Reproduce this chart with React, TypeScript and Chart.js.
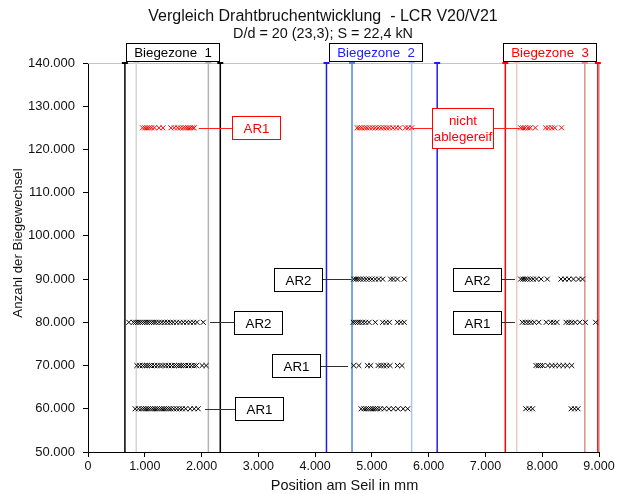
import React, { useEffect, useRef } from 'react';
import { Chart, registerables } from 'chart.js';

Chart.register(...registerables);

const FONT = '"Liberation Sans", Arial, sans-serif';

const TITLE = 'Vergleich Drahtbruchentwicklung  - LCR V20/V21';
const SUBTITLE = 'D/d = 20 (23,3); S = 22,4 kN';
const X_TITLE = 'Position am Seil in mm';
const Y_TITLE = 'Anzahl der Biegewechsel';

const X_MIN = 0;
const X_MAX = 9000;
const X_STEP = 1000;
const Y_MIN = 50000;
const Y_MAX = 140000;
const Y_STEP = 10000;

// Wire-break rows (y = number of bending cycles)
const RED_ROW_Y = 125000;
const RED_125000_X = [
  960, 1000, 1040, 1080, 1120, 1170, 1250, 1320, 1460, 1520, 1580, 1630, 1680, 1720, 1760, 1800, 1840, 1870,
  4740, 4780, 4820, 4870, 4910, 4960, 5010, 5060, 5110, 5160, 5210, 5260, 5310, 5370, 5430, 5490, 5590, 5640, 5700,
  7620, 7660, 7700, 7750, 7790, 7880, 8060, 8110, 8170, 8220, 8340,
];
const BLACK_90000_X = [
  4680, 4720, 4760, 4800, 4850, 4900, 4950, 5000, 5060, 5120, 5190, 5330, 5380, 5450, 5570,
  7620, 7660, 7700, 7740, 7790, 7840, 7900, 7980, 8090, 8330, 8400, 8470, 8550, 8640, 8710,
];
const BLACK_80000_X = [
  720, 800, 840, 880, 920, 960, 1000, 1040, 1080, 1120, 1160, 1200, 1250, 1300, 1350, 1400, 1450, 1500, 1560, 1620, 1680, 1740, 1800, 1860, 1920, 2030,
  4670, 4710, 4750, 4790, 4840, 4890, 4950, 5060, 5190, 5250, 5310, 5450, 5510, 5570,
  7650, 7700, 7750, 7800, 7860, 7940, 8070, 8150, 8200, 8260, 8420, 8470, 8520, 8580, 8660, 8760, 8940,
];
const BLACK_70000_X = [
  860, 910, 960, 1000, 1040, 1080, 1120, 1170, 1220, 1270, 1320, 1370, 1420, 1470, 1520, 1560, 1600, 1640, 1680, 1720, 1770, 1820, 1870, 1910, 2010, 2080,
  4680, 4770, 4920, 4980, 5110, 5160, 5210, 5260, 5320, 5450, 5530,
  7890, 7930, 7970, 8010, 8100, 8170, 8230, 8300, 8370, 8440, 8520,
];
const BLACK_60000_X = [
  830, 890, 940, 980, 1020, 1060, 1100, 1140, 1180, 1220, 1260, 1300, 1340, 1380, 1420, 1460, 1510, 1560, 1610, 1660, 1720, 1800, 1870, 1940,
  4810, 4860, 4900, 4940, 4980, 5020, 5060, 5100, 5150, 5220, 5300, 5380, 5460, 5550, 5630,
  7710, 7770, 7830, 8510, 8570, 8630,
];
const BLACK_ROW_Y = [90000, 80000, 70000, 60000];
const BLACK_ROWS_X = [BLACK_90000_X, BLACK_80000_X, BLACK_70000_X, BLACK_60000_X];

// Bending-zone boundary lines
const ZONE_LINE_X = [650, 850, 2120, 2330, 4200, 4650, 5700, 6150, 7350, 7550, 8750, 8980];
const ZONE_LABELS = ['Biegezone  1', 'Biegezone  2', 'Biegezone  3'];
const ZONE_LABEL_X = [1497, 5065, 8125];

// Callouts
const NOTE_TEXT = [['AR1'], ['nicht', 'ablegereif'], ['AR2'], ['AR1'], ['AR2'], ['AR1'], ['AR2'], ['AR1']];
const NOTE_ROW = [125000, 125000, 80000, 60000, 90000, 70000, 90000, 80000];
const NOTE_X = [2960, 6600, 3000, 3020, 3690, 3660, 6850, 6850];
const NOTE_LINK_X = [[1950], [5720, 7600], [2150], [2060], [4645], [4580], [7520], [7520]];

const ZONE_LINE_COLORS = [
  '#000000', '#d4d4d4', '#b4b4b4', '#000000',
  '#1c1cf0', '#4f86d8', '#a8c8ec', '#1c1cf0',
  '#ff0000', '#efc4c4', '#e48c8c', '#ff0000',
];
const ZONE_LABEL_COLORS = ['#000000', '#2020ff', '#ff0000'];
const NOTE_RED = [true, true, false, false, false, false, false, false];

function fmt(v: number): string {
  if (v === 0) return '0';
  const th = Math.floor(v / 1000);
  const rest = String(v % 1000).padStart(3, '0');
  return `${th}.${rest}`;
}

const overlay = {
  id: 'overlay',
  beforeDatasetsDraw(chart: any) {
    const { ctx, chartArea } = chart;
    ctx.save();
    ctx.strokeStyle = '#c4c4c4';
    ctx.lineWidth = 1;
    ctx.beginPath();
    ctx.moveTo(chartArea.left, Math.round(chartArea.top) + 0.5);
    ctx.lineTo(chartArea.right, Math.round(chartArea.top) + 0.5);
    ctx.moveTo(Math.round(chartArea.right) + 0.5, chartArea.top);
    ctx.lineTo(Math.round(chartArea.right) + 0.5, chartArea.bottom);
    ctx.stroke();
    ctx.restore();
  },
  afterDatasetsDraw(chart: any) {
    const { ctx, scales } = chart;
    const xs = scales.x;
    const ys = scales.y;
    ctx.save();
    ctx.font = `13.3px ${FONT}`;
    ctx.textAlign = 'center';
    ctx.textBaseline = 'middle';
    NOTE_TEXT.forEach((lines, i) => {
      const red = NOTE_RED[i];
      const cx = xs.getPixelForValue(NOTE_X[i]);
      const cy = ys.getPixelForValue(NOTE_ROW[i]);
      const w = lines.length > 1 ? 61 : 48;
      const h = lines.length > 1 ? 40 : 23;
      const left = Math.round(cx - w / 2) + 0.5;
      const top = Math.round(cy - h / 2) + 0.5;
      ctx.strokeStyle = red ? '#ff2020' : '#303030';
      ctx.lineWidth = 1;
      NOTE_LINK_X[i].forEach((lx) => {
        const px = xs.getPixelForValue(lx);
        const yy = Math.round(cy) + 0.5;
        ctx.beginPath();
        if (px < cx) {
          ctx.moveTo(px, yy);
          ctx.lineTo(left, yy);
        } else {
          ctx.moveTo(left + w, yy);
          ctx.lineTo(px, yy);
        }
        ctx.stroke();
      });
      ctx.fillStyle = '#ffffff';
      ctx.fillRect(left, top, w, h);
      ctx.strokeStyle = red ? '#ff0000' : '#000000';
      ctx.strokeRect(left, top, w, h);
      ctx.fillStyle = red ? '#ff0000' : '#000000';
      const lh = 16;
      lines.forEach((t, k) => {
        ctx.fillText(t, left + w / 2, top + h / 2 + (k - (lines.length - 1) / 2) * lh + 1);
      });
    });
    ctx.restore();
  },
  afterDraw(chart: any) {
    const { ctx, chartArea, scales } = chart;
    const xs = scales.x;
    ctx.save();
    ctx.fillStyle = '#111111';
    ctx.textAlign = 'center';
    ctx.textBaseline = 'alphabetic';
    ctx.font = `16px ${FONT}`;
    ctx.fillText(TITLE, 323, 21);
    ctx.font = `14.4px ${FONT}`;
    ctx.fillText(SUBTITLE, 323, 38);
    ctx.font = `13.3px ${FONT}`;
    // zone labels
    ZONE_LABELS.forEach((t, i) => {
      const cx = xs.getPixelForValue(ZONE_LABEL_X[i]);
      const w = 93;
      const h = 18;
      const left = Math.round(cx - w / 2) + 0.5;
      const top = 43.5;
      ctx.fillStyle = '#ffffff';
      ctx.fillRect(left, top, w, h);
      ctx.strokeStyle = '#000000';
      ctx.lineWidth = 1;
      ctx.strokeRect(left, top, w, h);
      ctx.fillStyle = ZONE_LABEL_COLORS[i];
      ctx.textBaseline = 'middle';
      ctx.fillText(t, left + w / 2, top + h / 2 + 1);
    });
    ctx.fillStyle = '#111111';
    ctx.textBaseline = 'middle';
    ctx.font = `14.5px ${FONT}`;
    ctx.fillText(X_TITLE, (chartArea.left + chartArea.right) / 2 + 1, 486);
    ctx.font = `13.3px ${FONT}`;
    ctx.translate(18, 243);
    ctx.rotate(-Math.PI / 2);
    ctx.fillText(Y_TITLE, 0, 0);
    ctx.restore();
  },
};

export default function App() {
  const ref = useRef<HTMLCanvasElement | null>(null);
  useEffect(() => {
    if (!ref.current) return;
    const markerBase = {
      type: 'scatter' as const,
      showLine: false,
      pointStyle: 'crossRot',
      pointRadius: 3.5,
      pointHoverRadius: 3.5,
      pointBorderWidth: 1,
    };
    const datasets: any[] = [];
    datasets.push({
      ...markerBase,
      label: 'rot',
      data: RED_125000_X.map((x) => ({ x, y: RED_ROW_Y })),
      borderColor: '#ff0000',
      backgroundColor: '#ff0000',
    });
    BLACK_ROWS_X.forEach((arr, i) => {
      datasets.push({
        ...markerBase,
        label: `row${BLACK_ROW_Y[i]}`,
        data: arr.map((x) => ({ x, y: BLACK_ROW_Y[i] })),
        borderColor: '#000000',
        backgroundColor: '#000000',
      });
    });
    ZONE_LINE_X.forEach((x, i) => {
      datasets.push({
        type: 'scatter',
        label: `zone${i}`,
        showLine: true,
        data: [
          { x, y: Y_MIN },
          { x, y: Y_MAX },
        ],
        borderColor: ZONE_LINE_COLORS[i],
        backgroundColor: ZONE_LINE_COLORS[i],
        borderWidth: 1.5,
        pointStyle: 'line',
        pointRadius: [0, 3],
        pointHoverRadius: [0, 3],
        pointBorderWidth: 2,
        clip: false,
      });
    });
    const chart = new Chart(ref.current, {
      type: 'scatter',
      data: { datasets },
      plugins: [overlay],
      options: {
        animation: false,
        responsive: false,
        devicePixelRatio: 1,
        events: [],
        layout: { padding: { top: 63, right: 23, bottom: 0, left: 0 } },
        plugins: {
          legend: { display: false },
          title: { display: false },
          tooltip: { enabled: false },
        },
        scales: {
          x: {
            type: 'linear',
            min: X_MIN,
            max: X_MAX,
            afterFit: (s: any) => {
              s.height = 42;
            },
            ticks: {
              stepSize: X_STEP,
              callback: (v: any) => fmt(Number(v)),
              font: { family: FONT, size: 12.5 },
              color: '#111111',
              padding: 2,
              maxRotation: 0,
            },
            grid: {
              drawOnChartArea: false,
              drawTicks: true,
              tickLength: 5,
              color: '#000000',
            },
            border: { color: '#000000', width: 1 },
          },
          y: {
            type: 'linear',
            min: Y_MIN,
            max: Y_MAX,
            afterFit: (s: any) => {
              s.width = 88;
            },
            ticks: {
              stepSize: Y_STEP,
              callback: (v: any) => fmt(Number(v)),
              font: { family: FONT, size: 13 },
              color: '#111111',
              padding: 8,
            },
            grid: {
              drawOnChartArea: false,
              drawTicks: true,
              tickLength: 5,
              color: '#000000',
            },
            border: { color: '#000000', width: 1 },
          },
        },
      } as any,
    });
    return () => chart.destroy();
  }, []);
  return (
    <div style={{ position: 'absolute', left: 0, top: 0, width: 622, height: 494, background: '#ffffff' }}>
      <canvas ref={ref} width={622} height={494} />
    </div>
  );
}
